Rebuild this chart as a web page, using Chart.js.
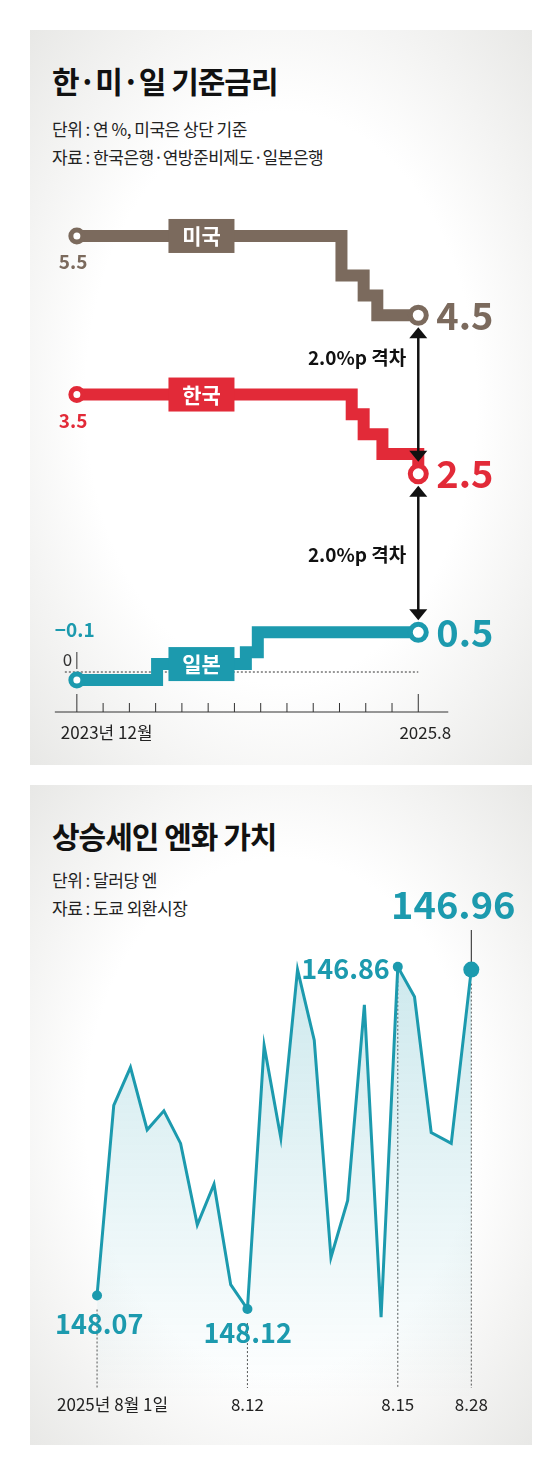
<!DOCTYPE html>
<html><head><meta charset="utf-8">
<script src="https://cdn.jsdelivr.net/npm/chart.js@4/dist/chart.umd.min.js"></script>
<style>
body{margin:0;width:560px;height:1476px;background:#fff;position:relative;font-family:"Noto Sans CJK KR",sans-serif;overflow:hidden}
.panel{position:absolute;left:30px;width:502px;background:radial-gradient(ellipse at 50% 50%,#ffffff 55%,#e8e8e6 100%)}
.t{position:absolute;left:22px;font-weight:700;font-size:30px;color:#111;letter-spacing:-1px}
.s{position:absolute;left:22px;font-size:17px;color:#222;letter-spacing:-0.5px}
canvas{position:absolute;left:0}
</style></head><body>
<div class="panel" style="top:30px;height:735px">
 <div class="t" style="top:28px">한·미·일 기준금리</div>
 <div class="s" style="top:86px">단위 : 연 %, 미국은 상단 기준</div>
 <div class="s" style="top:114px">자료 : 한국은행·연방준비제도·일본은행</div>
</div>
<div class="panel" style="top:785px;height:660px">
 <div class="t" style="top:28px">상승세인 엔화 가치</div>
 <div class="s" style="top:82px">단위 : 달러당 엔</div>
 <div class="s" style="top:110px">자료 : 도쿄 외환시장</div>
</div>
<div style="position:absolute;left:0;top:180px;width:560px;height:580px"><canvas id="rate"></canvas></div>
<div style="position:absolute;left:0;top:860px;width:560px;height:560px"><canvas id="yen"></canvas></div>
<script>
// 금리 (x = 2023년 12월부터 개월 수, 그림 기준)
const us_x = [0, 15.5, 16.8, 17.6, 20];
const us_y = [5.5, 5.0, 4.75, 4.5, 4.5];
const kr_x = [0, 16.1, 16.8, 17.9, 20];
const kr_y = [3.5, 3.25, 3.0, 2.75, 2.5];
const jp_x = [0, 4.7, 9.9, 10.6, 20];
const jp_y = [-0.1, 0.1, 0.25, 0.5, 0.5];
const month_ticks = 14;

// 엔/달러 (x = 순번)
const yen_x = [0,1,2,3,4,5,6,7,8,9,10,11,12,13,14,15,16,17,18,19,20,21.2,22.4];
const yen_y = [148.07,147.37,147.23,147.46,147.39,147.51,147.81,147.66,148.03,148.12,147.15,147.49,146.87,147.13,147.93,147.72,147.00,148.15,146.86,146.97,147.47,147.51,146.87];

const BROWN = '#7b6a5d', RED = '#e22a38', TEAL = '#1c9aae', FONT = '"Noto Sans CJK KR", sans-serif';

const pts = (xs, ys) => xs.map((x, i) => ({x: x, y: ys[i]}));
const radii = n => Array.from({length: n}, (_, i) => i == 0 ? 6 : (i == n - 1 ? 8 : 0));
const stepSet = (xs, ys, c) => ({
    data: pts(xs, ys), borderColor: c, borderWidth: 12, stepped: 'before',
    pointRadius: radii(xs.length), pointBackgroundColor: '#fff', pointBorderColor: c, pointBorderWidth: 5
});

function txt(ctx, s, x, y, font, color, align) {
    ctx.font = font; ctx.fillStyle = color; ctx.textAlign = align || 'left'; ctx.textBaseline = 'middle';
    ctx.fillText(s, x, y);
}
function arrow(ctx, x, y1, y2) {
    ctx.strokeStyle = '#111'; ctx.fillStyle = '#111'; ctx.lineWidth = 2.5;
    ctx.beginPath(); ctx.moveTo(x, y1 + 8); ctx.lineTo(x, y2 - 8); ctx.stroke();
    ctx.beginPath(); ctx.moveTo(x, y1); ctx.lineTo(x - 9, y1 + 11); ctx.lineTo(x + 9, y1 + 11); ctx.fill();
    ctx.beginPath(); ctx.moveTo(x, y2); ctx.lineTo(x - 9, y2 - 11); ctx.lineTo(x + 9, y2 - 11); ctx.fill();
}

const rateDeco = {
    id: 'rateDeco',
    beforeDatasetsDraw(chart) {
        const ctx = chart.ctx, sx = chart.scales.x, sy = chart.scales.y;
        const x0 = sx.getPixelForValue(0), x1 = sx.getPixelForValue(20), base = 532;
        ctx.save();
        ctx.strokeStyle = '#333'; ctx.lineWidth = 1;
        ctx.setLineDash([2, 2]);
        ctx.beginPath(); ctx.moveTo(x0 - 12, sy.getPixelForValue(0)); ctx.lineTo(x1, sy.getPixelForValue(0)); ctx.stroke();
        ctx.setLineDash([]);
        ctx.beginPath(); ctx.moveTo(x0 - 22, base); ctx.lineTo(x1 + 30, base); ctx.stroke();
        for (let i = 0; i < month_ticks; i++) {
            const px = sx.getPixelForValue(i * 20 / (month_ticks - 1));
            const h = (i == 0 || i == month_ticks - 1) ? 18 : 9;
            ctx.beginPath(); ctx.moveTo(px, base - h); ctx.lineTo(px, base); ctx.stroke();
        }
        ctx.beginPath(); ctx.moveTo(x0, sy.getPixelForValue(0) - 20); ctx.lineTo(x0, sy.getPixelForValue(0) - 3); ctx.stroke();
        ctx.restore();
    },
    afterDatasetsDraw(chart) {
        const ctx = chart.ctx, sx = chart.scales.x, sy = chart.scales.y;
        const X = v => sx.getPixelForValue(v), Y = v => sy.getPixelForValue(v);
        ctx.save();
        [['미국', 5.5, BROWN], ['한국', 3.5, RED], ['일본', 0.1, TEAL]].forEach(([s, v, c]) => {
            const cx = X(7.3), cy = Y(v);
            ctx.fillStyle = c; ctx.fillRect(cx - 33, cy - 17, 66, 34);
            txt(ctx, s, cx, cy, '700 21px ' + FONT, '#fff', 'center');
        });
        const xe = X(20);
        arrow(ctx, xe, Y(4.5) + 12, Y(2.5) - 12);
        arrow(ctx, xe, Y(2.5) + 12, Y(0.5) - 12);
        txt(ctx, '2.0%p 격차', xe - 12, 178, '700 19px ' + FONT, '#111', 'right');
        txt(ctx, '2.0%p 격차', xe - 12, 375, '700 19px ' + FONT, '#111', 'right');
        txt(ctx, '5.5', X(0) - 18, Y(5.5) + 26, '700 19px ' + FONT, BROWN);
        txt(ctx, '3.5', X(0) - 18, Y(3.5) + 26, '700 19px ' + FONT, RED);
        txt(ctx, '−0.1', X(0) - 22, 450, '700 19px ' + FONT, TEAL);
        txt(ctx, '0', X(0) - 14, 480, '400 17px ' + FONT, '#333');
        txt(ctx, '4.5', xe + 18, Y(4.5), '700 38px ' + FONT, BROWN);
        txt(ctx, '2.5', xe + 18, Y(2.5), '700 38px ' + FONT, RED);
        txt(ctx, '0.5', xe + 18, Y(0.5), '700 38px ' + FONT, TEAL);
        txt(ctx, '2023년 12월', X(0) - 16, 553, '400 17px ' + FONT, '#222');
        txt(ctx, '2025.8', xe + 33, 553, '400 17px ' + FONT, '#222', 'right');
        ctx.restore();
    }
};

new Chart(document.getElementById('rate').getContext('2d'), {
    type: 'line',
    data: { datasets: [stepSet(us_x, us_y, BROWN), stepSet(kr_x, kr_y, RED), stepSet(jp_x, jp_y, TEAL)] },
    options: {
        responsive: true, maintainAspectRatio: false, animation: false,
        layout: { padding: 0 },
        plugins: { legend: { display: false }, tooltip: { enabled: false } },
        scales: {
            x: { type: 'linear', min: -3.74, max: 27.54, display: false },
            y: { min: -0.946, max: 6.042, display: false }
        }
    },
    plugins: [rateDeco]
});

const yenDeco = {
    id: 'yenDeco',
    beforeDatasetsDraw(chart) {
        const ctx = chart.ctx, sx = chart.scales.x, sy = chart.scales.y;
        ctx.save();
        ctx.strokeStyle = '#555'; ctx.lineWidth = 1; ctx.setLineDash([2, 2]);
        [[0, yen_y[0]], [9, yen_y[9]], [18, yen_y[18]], [22.4, yen_y[22]]].forEach(([x, v]) => {
            ctx.beginPath(); ctx.moveTo(sx.getPixelForValue(x), sy.getPixelForValue(v) + 14); ctx.lineTo(sx.getPixelForValue(x), 528); ctx.stroke();
        });
        ctx.setLineDash([]); ctx.strokeStyle = '#222';
        const xl = sx.getPixelForValue(22.4);
        ctx.beginPath(); ctx.moveTo(xl, 70); ctx.lineTo(xl, sy.getPixelForValue(yen_y[22])); ctx.stroke();
        ctx.restore();
    },
    afterDatasetsDraw(chart) {
        const ctx = chart.ctx, sx = chart.scales.x, sy = chart.scales.y;
        ctx.save();
        const b = '700 27px ' + FONT;
        txt(ctx, '148.07', sx.getPixelForValue(0) - 42, sy.getPixelForValue(148.07) + 28, b, TEAL);
        txt(ctx, '148.12', sx.getPixelForValue(9) - 44, sy.getPixelForValue(148.12) + 24, b, TEAL);
        txt(ctx, '146.86', sx.getPixelForValue(18) - 8, sy.getPixelForValue(146.86) + 2, b, TEAL, 'right');
        txt(ctx, '146.96', sx.getPixelForValue(22.4) - 18, 45, '700 38px ' + FONT, TEAL, 'center');
        const d = '400 17px ' + FONT;
        txt(ctx, '2025년 8월 1일', sx.getPixelForValue(0) - 40, 545, d, '#222');
        txt(ctx, '8.12', sx.getPixelForValue(9), 545, d, '#222', 'center');
        txt(ctx, '8.15', sx.getPixelForValue(18), 545, d, '#222', 'center');
        txt(ctx, '8.28', sx.getPixelForValue(22.4), 545, d, '#222', 'center');
        ctx.restore();
    }
};

const yctx = document.getElementById('yen').getContext('2d');
const grad = yctx.createLinearGradient(0, 100, 0, 540);
grad.addColorStop(0, 'rgba(28,154,174,0.22)');
grad.addColorStop(1, 'rgba(28,154,174,0.0)');

new Chart(yctx, {
    type: 'line',
    data: { datasets: [{
        data: pts(yen_x, yen_y), borderColor: TEAL, borderWidth: 3, tension: 0,
        fill: 'start', backgroundColor: grad,
        pointRadius: yen_y.map((v, i) => [0, 9, 18].includes(i) ? 5 : (i == yen_y.length - 1 ? 8 : 0)),
        pointBackgroundColor: TEAL, pointBorderWidth: 0
    }] },
    options: {
        responsive: true, maintainAspectRatio: false, animation: false,
        layout: { padding: 0 },
        plugins: { legend: { display: false }, tooltip: { enabled: false } },
        scales: {
            x: { type: 'linear', min: -5.33, max: 27.23, display: false },
            y: { reverse: true, min: 146.496, max: 148.499, display: false }
        }
    },
    plugins: [yenDeco]
});
</script>
</body></html>
